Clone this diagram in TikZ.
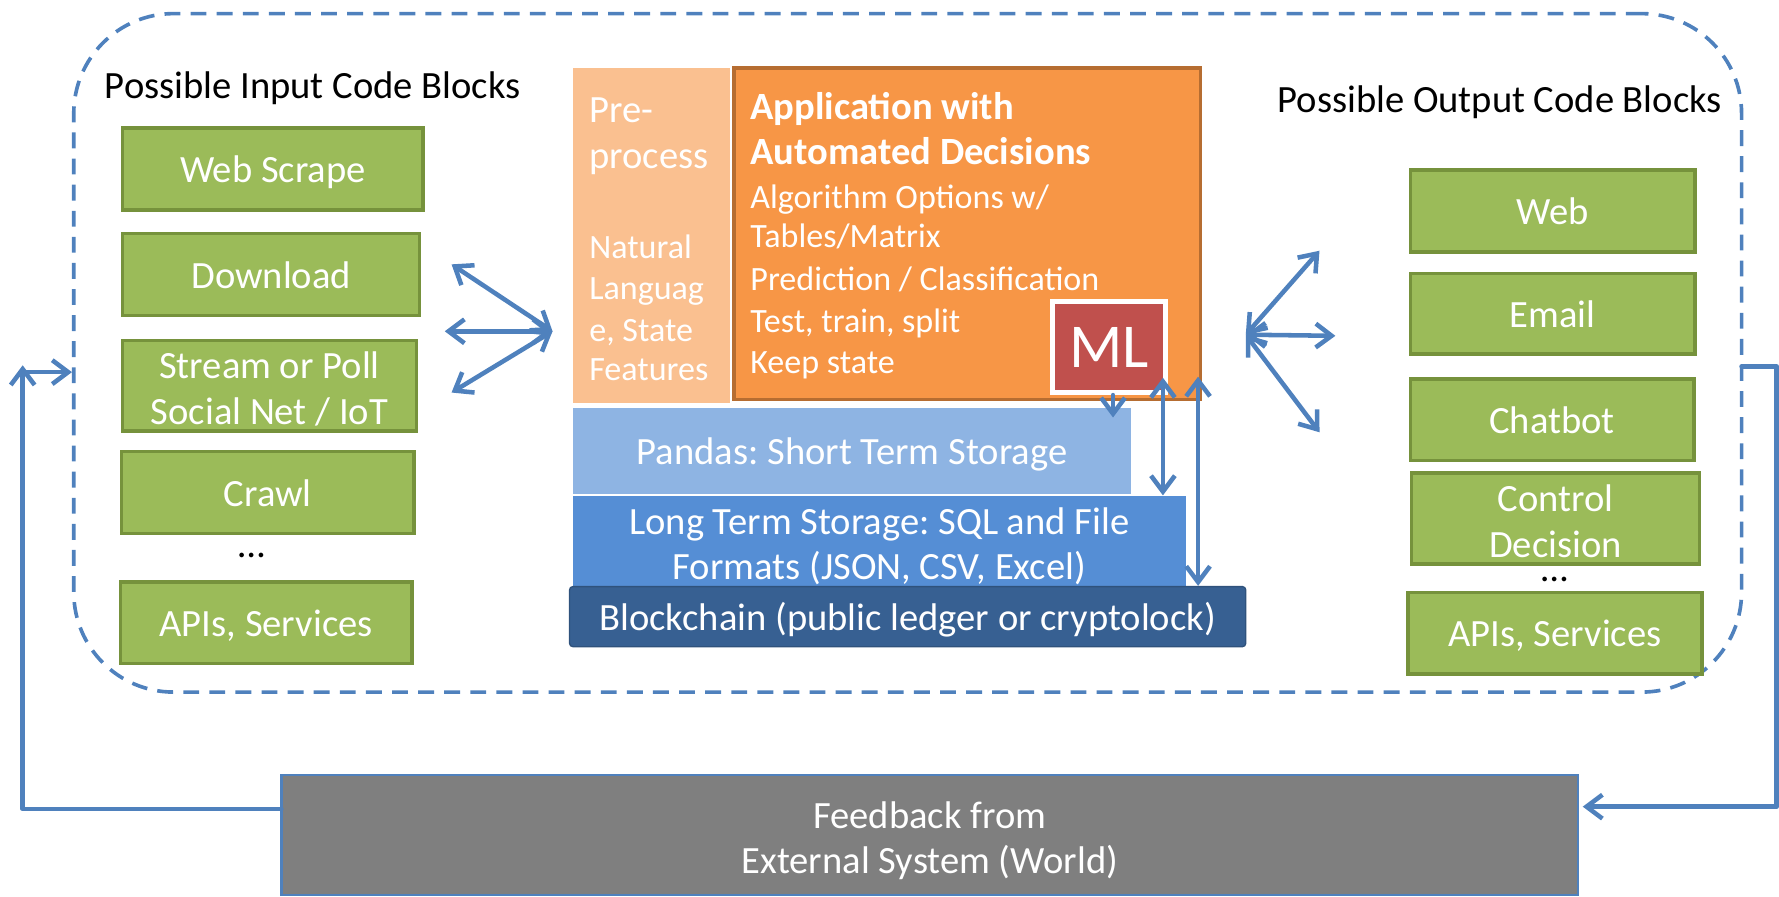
\documentclass[tikz,border=0pt]{standalone}
\usepackage{fontspec}
\setmainfont{Carlito}
\usetikzlibrary{arrows.meta}
\definecolor{grfill}{HTML}{9BBB59}
\definecolor{grline}{HTML}{76923C}
\definecolor{prefill}{HTML}{FAC090}
\definecolor{appfill}{HTML}{F79646}
\definecolor{appline}{HTML}{B66D31}
\definecolor{mlfill}{HTML}{C0504D}
\definecolor{pdfill}{HTML}{8EB4E3}
\definecolor{ltfill}{HTML}{558ED5}
\definecolor{bcfill}{HTML}{376092}
\definecolor{flow}{HTML}{4F81BD}
\definecolor{fbfill}{HTML}{7F7F7F}
\tikzset{barbtip/.tip={Straight Barb[length=7pt,width=10.5pt]}}
\frenchspacing
\begin{document}
\begin{tikzpicture}[x=0.5pt,y=-0.5pt,
  font=\fontsize{17}{20}\selectfont,
  % rectangle given by its corners (x1,y1) and (x2,y2)
  area/.style n args={4}{at={({(#1+#3)/2},{(#2+#4)/2})},
    minimum width={(#3-#1)*0.5pt}, minimum height={(#4-#2)*0.5pt},
    inner sep=0pt, rectangle, text=white, align=center},
  % fixed text box sizes so that the lines sit slightly below the centre
  oneline/.style={text height=15pt, text depth=3pt},
  twoline/.style={text height=37pt, text depth=3pt},
  greenbox/.style={draw=grline, line width=1.5pt, fill=grfill},
  flowline/.style={draw=flow, line width=2pt, line cap=round, line join=round},
  dbl/.style={flowline, {barbtip}-{barbtip}},
  sgl/.style={flowline, -{barbtip}},
  dots/.style={text=black, inner sep=0pt}
]
\useasboundingbox (0,0) rectangle (1568,790);

% dashed frame around the code blocks
\node[area={65}{12}{1535}{610}, draw=flow, line width=1.6pt,
  dash pattern=on 7pt off 4.5pt, rounded corners=44pt] (frame) {};

% titles
\node[anchor=west, inner sep=0pt] (intitle) at (92,78) {Possible Input Code Blocks};
\node[anchor=east, inner sep=0pt] (outtitle) at (1518,90) {Possible Output Code Blocks};

% input blocks
\node[area={108}{113}{373}{185}, greenbox, oneline] (ws) {Web Scrape};
\node[area={108}{206}{370}{278}, greenbox, oneline] (dl) {Download};
\node[area={108}{304}{367}{376}, greenbox, twoline] (sp) {Stream or Poll\\Social Net / IoT};
\node[area={107}{398}{365}{470}, greenbox, oneline] (cr) {Crawl};
\node[dots] (indots) at (222,490) {…};
\node[area={106}{513}{363}{585}, greenbox, oneline] (inapi) {APIs, Services};

% output blocks
\node[area={1243}{150}{1494}{222}, greenbox, oneline] (web) {Web};
\node[area={1243}{241}{1494}{312}, greenbox, oneline] (em) {Email};
\node[area={1243}{334}{1493}{406}, greenbox, oneline] (cb) {Chatbot};
\node[area={1244}{421}{1498}{493}, greenbox, twoline] (cd) {Control\\Decision};
\node[dots] (outdots) at (1370,511) {…};
\node[area={1241}{522}{1500}{594}, greenbox, oneline] (outapi) {APIs, Services};

% pre-processing column
\node[area={505}{60}{643}{355}, fill=prefill] (pre) {};
\node[anchor=north west, inner sep=0pt, text=white, align=left,
  font=\fontsize{15}{17.5}\selectfont] (pretext) at (519,86)
  {{\fontsize{17}{20}\selectfont Pre-}\\[2.5pt]
   {\fontsize{17}{20}\selectfont process}\\[22.25pt]
   Natural\\[0.5pt]
   Languag\\[1pt]
   e, State\\
   Features};

% application block
\node[area={647}{60}{1058}{352}, fill=appfill, draw=appline, line width=1.5pt] (app) {};
\node[anchor=north west, inner sep=0pt, text=white, align=left,
  font=\fontsize{15}{17}\selectfont] (apptext) at (661,81)
  {{\bfseries\fontsize{17}{17}\selectfont Application with}\\[3pt]
   {\bfseries\fontsize{17}{17}\selectfont Automated Decisions}\\[2.25pt]
   Algorithm Options w/\\
   Tables/Matrix\\[2pt]
   Prediction / Classification\\[1.5pt]
   Test, train, split\\[1pt]
   Keep state};
\node[area={928}{266}{1027}{346}, fill=mlfill, draw=white, line width=2.2pt,
  font=\fontsize{27.5}{30}\selectfont] (ml) {ML};

% storage layers
\node[area={505}{360}{997}{435}, fill=pdfill, oneline] (pd) {Pandas: Short Term Storage};
\node[area={505}{437}{1045}{517}, fill=ltfill, twoline] (lts)
  {Long Term Storage: SQL and File\\Formats (JSON, CSV, Excel)};
\node[area={502}{517}{1098}{570}, fill=bcfill, draw=bcfill!85!black, oneline,
  line width=0.6pt, rounded corners=1.5pt] (bc) {Blockchain (public ledger or cryptolock)};

% feedback block
\node[area={248}{683}{1391}{789}, fill=fbfill, draw=flow, line width=1pt, twoline] (fb)
  {Feedback from\\External System (World)};

% input fan
\coordinate (inhub) at (487,292);
\coordinate (in1) at (398,233);
\coordinate (in2) at (392,292);
\coordinate (in3) at (398,346);
\draw[dbl] (in1) -- (inhub);
\draw[dbl] (in2) -- (inhub);
\draw[dbl] (in3) -- (inhub);

% output fan
\coordinate (outhub) at (1098,295);
\coordinate (out1) at (1163,221);
\coordinate (out2) at (1177,296);
\coordinate (out3) at (1163,381);
\draw[dbl] (outhub) -- (out1);
\draw[dbl] (outhub) -- (out2);
\draw[dbl] (outhub) -- (out3);

% storage links
\coordinate (mlend) at (981,368);
\draw[sgl] (ml.south -| mlend) -- (mlend);
\coordinate (lttop) at (1025,333);
\draw[dbl] (lttop) -- (lttop |- lts.north);
\coordinate (bctop) at (1056,332);
\draw[dbl] (bctop) -- (bctop |- bc.north);

% feedback loop
\coordinate (fbl) at (248,713);
\coordinate (upend) at (20,322);
\draw[sgl] (fbl) -| (upend);
\coordinate (instart) at (20,328);
\draw[sgl] (instart) -- (instart -| frame.west);
\coordinate (outstart) at (1535,323);
\coordinate (fbr) at (1395,711);
\draw[sgl] (outstart) -- (1566,323) |- (fbr);
\end{tikzpicture}
\end{document}
